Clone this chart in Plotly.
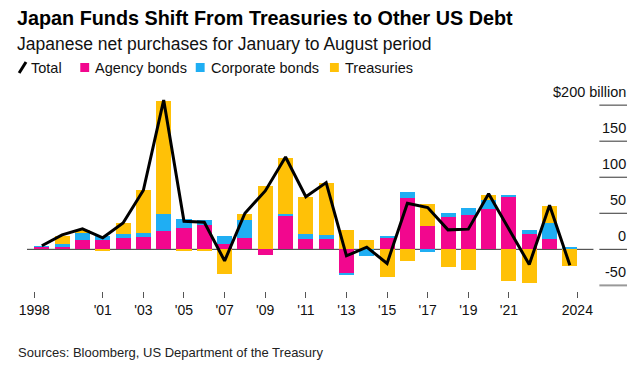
import plotly.graph_objects as go

years = list(range(1998, 2025))
agency = [4, 3.5, 13, 13, 16, 17.5, 26, 30, 34, 8, 16, -8, 47, 15, 14.5, -33, 0, 16, 71, 32, 45, 48, 56, 72, 21, 14, 1]
corporate = [0.5, 3.5, 9, 5, 5.5, 5.5, 23, 12.5, 6.5, 10.5, 24.5, 0, 1.5, 6.5, 6, -2.5, -9, 3, 8.5, -4, 5.5, 9, 12.5, 3, 5.5, 23, 2]
treasuries = [0, 11.5, 5, -2, 15, 59, 157, -3, -3, -34, 9, 88, 78.5, 51, 72, 26.5, 13, -38, -16, 31, -24, -28, 7.5, -44, -47, 22.5, -23.5]
total = [5, 20, 28.5, 16, 36.5, 82, 207, 39, 37.5, -16, 50, 81, 128, 73, 92.5, -9, 3, -19.5, 64, 58, 27, 28, 77, 29, -21, 61, -22]

tick_vals = [1997.63, 2001, 2003, 2005, 2007, 2009, 2011, 2013, 2015, 2017, 2019, 2021, 2024.37]
tick_text = ["1998", "'01", "'03", "'05", "'07", "'09", "'11", "'13", "'15", "'17", "'19", "'21", "2024"]
y_grid = [200, 150, 100, 50, 0, -50]
y_labels = ["$200 billion", "150", "100", "50", "0", "-50"]

PINK = "#F2078E"
BLUE = "#1FAEF3"
YELLOW = "#FFC107"
FONT = "Liberation Sans, Arial, sans-serif"

# the page body has an 8px margin; figure sized to fill the rest of the window
W, H = 633, 360
L, R, T, B = 11, 14, 91, 77
PW, PH = W - L - R, H - T - B
XR = [1997.27, 1997.27 + PW / 20.58]
YR = [-57.8, 208.5]


def px(xp):  # page pixel -> paper
    return (xp - 19) / PW


def py(yp):  # page pixel -> paper
    return (291 - yp) / PH


fig = go.Figure()
bw = 0.74
fig.add_bar(x=years, y=agency, marker_color=PINK, width=bw, name="Agency bonds", marker_line_width=0)
fig.add_bar(x=years, y=corporate, marker_color=BLUE, width=bw, name="Corporate bonds", marker_line_width=0)
fig.add_bar(x=years, y=treasuries, marker_color=YELLOW, width=bw, name="Treasuries", marker_line_width=0)
fig.add_scatter(x=years, y=total, mode="lines", line=dict(color="black", width=3), name="Total")

shapes = []
shapes.append(dict(type="line", xref="x", yref="y", x0=XR[0], x1=XR[0] + (593 - 19) / 20.58, y0=0, y1=0,
                   line=dict(color="#333", width=1), layer="below"))
annotations = []
gx0 = XR[0] + (599 - 19) / 20.58
for v, lab in zip(y_grid, y_labels):
    if v == -50:
        shapes.append(dict(type="line", xref="x", yref="y", x0=gx0, x1=XR[1], y0=v, y1=v,
                           line=dict(color="#999", width=2)))
    else:
        shapes.append(dict(type="line", xref="x", yref="y", x0=gx0, x1=XR[1], y0=v, y1=v,
                           line=dict(color="#333", width=1)))
    annotations.append(dict(x=XR[1], y=v, xref="x", yref="y", text=lab, showarrow=False,
                            xanchor="right", yanchor="middle", yshift=13, borderpad=0,
                            font=dict(family=FONT, size=14.5, color="#111")))

annotations.append(dict(x=px(8), y=py(18), xref="paper", yref="paper", text="<b>Japan Funds Shift From Treasuries to Other US Debt</b>",
                        showarrow=False, xanchor="left", yanchor="middle", borderpad=0,
                        font=dict(family=FONT, size=19.8, color="#000")))
annotations.append(dict(x=px(8), y=py(44), xref="paper", yref="paper", text="Japanese net purchases for January to August period",
                        showarrow=False, xanchor="left", yanchor="middle", borderpad=0,
                        font=dict(family=FONT, size=17.5, color="#111")))
annotations.append(dict(x=px(9), y=py(352), xref="paper", yref="paper", text="Sources: Bloomberg, US Department of the Treasury",
                        showarrow=False, xanchor="left", yanchor="middle", borderpad=0,
                        font=dict(family=FONT, size=13, color="#222")))

LY = 68
shapes.append(dict(type="line", xref="paper", yref="paper", x0=px(11), x1=px(18), y0=py(73), y1=py(62),
                   line=dict(color="black", width=3)))
legend_items = [("Total", None, 22), ("Agency bonds", PINK, 73), ("Corporate bonds", BLUE, 190), ("Treasuries", YELLOW, 326)]
for name, col, x0 in legend_items:
    if col is None:
        tx = x0
    else:
        shapes.append(dict(type="rect", xref="paper", yref="paper", x0=px(x0), x1=px(x0 + 9),
                           y0=py(LY - 5), y1=py(LY + 4), fillcolor=col, line=dict(width=0)))
        tx = x0 + 14
    annotations.append(dict(x=px(tx), y=py(LY), xref="paper", yref="paper", text=name, showarrow=False,
                            xanchor="left", yanchor="middle", borderpad=0,
                            font=dict(family=FONT, size=14.5, color="#111")))

fig.update_layout(
    width=W, height=H,
    margin=dict(l=L, r=R, t=T, b=B),
    barmode="relative",
    bargap=0,
    showlegend=False,
    plot_bgcolor="white", paper_bgcolor="white",
    shapes=shapes, annotations=annotations,
    xaxis=dict(range=XR, tickvals=tick_vals, ticktext=tick_text, showgrid=False, zeroline=False,
               showline=False, ticks="outside", ticklen=6, tickcolor="#555", tickwidth=1,
               tickfont=dict(family=FONT, size=14, color="#111"), fixedrange=True),
    yaxis=dict(range=YR, visible=False, fixedrange=True),
)

fig.write_html("out.html")
